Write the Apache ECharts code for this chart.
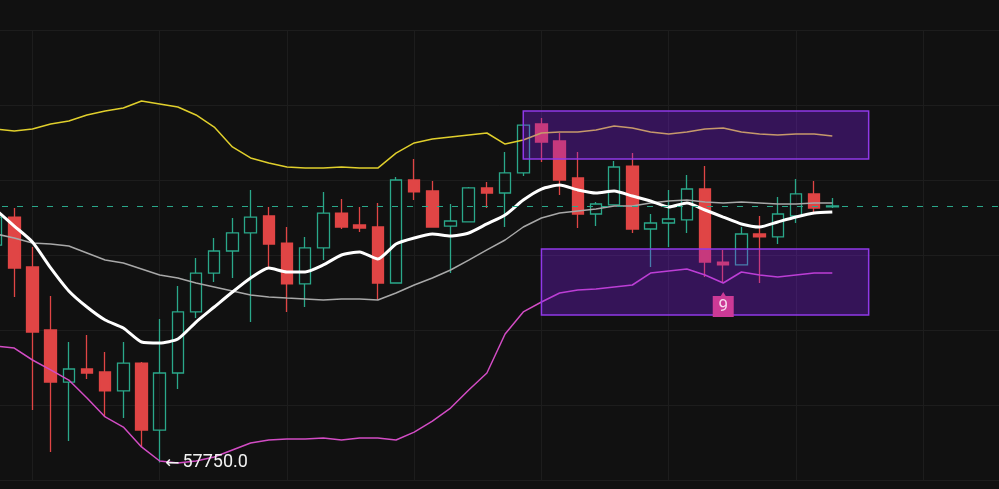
<!DOCTYPE html>
<html>
<head>
<meta charset="utf-8">
<script src="https://cdn.jsdelivr.net/npm/echarts@6/dist/echarts.min.js"></script>
<style>
html,body{margin:0;padding:0;background:#111111;}
#chart{width:999px;height:489px;}
</style>
</head>
<body>
<div id="chart"></div>
<script>
// ---- categories (15m candles, last 9 slots empty) ----
const categories = [
'08:00','08:15','08:30','08:45','09:00','09:15','09:30','09:45',
'10:00','10:15','10:30','10:45','11:00','11:15','11:30','11:45',
'12:00','12:15','12:30','12:45','13:00','13:15','13:30','13:45',
'14:00','14:15','14:30','14:45','15:00','15:15','15:30','15:45',
'16:00','16:15','16:30','16:45','17:00','17:15','17:30','17:45',
'18:00','18:15','18:30','18:45','19:00','19:15','19:30','19:45',
'20:00','20:15','20:30','20:45','21:00','21:15','21:30','21:45'
];

// ---- candles: [open, close, low, high] ----
const ohlc = [
[59605,59844,59546,59921],
[59844,59409,59162,59921],
[59418,58863,58197,59588],
[58880,58436,57839,59170],
[58436,58547,57933,58778],
[58547,58513,58462,58837],
[58522,58360,58138,58692],
[58360,58598,58129,58778],
[58598,58026,57882,58607],
[58026,58513,57750,58974],
[58513,59034,58377,59256],
[59034,59366,58982,59494],
[59366,59554,59290,59665],
[59554,59708,59324,59836],
[59708,59844,58948,60075],
[59853,59614,59409,59930],
[59622,59273,59034,59759],
[59273,59580,59076,59674],
[59580,59878,59477,60058],
[59878,59759,59742,59998],
[59776,59750,59716,59930],
[59759,59281,59136,59964],
[59281,60160,59275,60186],
[60160,60058,59989,60339],
[60066,59759,59755,60151],
[59767,59810,59366,59955],
[59802,60092,59800,60100],
[60092,60049,59921,60143],
[60049,60220,59759,60399],
[60220,60629,60194,60635],
[60638,60484,60314,60689],
[60493,60160,60032,60561],
[60177,59870,59750,60399],
[59870,59955,59767,59972],
[59947,60271,59945,60322],
[60279,59742,59708,60390],
[59742,59793,59418,59870],
[59793,59827,59588,60075],
[59819,60083,59708,60203],
[60083,59460,59332,60279],
[59460,59435,59281,59563],
[59435,59699,59430,59759],
[59699,59674,59281,59853],
[59674,59870,59614,60015],
[59853,60041,59793,60169],
[60041,59921,59887,60151],
[59930,59938,59921,60006]
];

// ---- Bollinger bands ----
const bollUpper = [60595,60578,60595,60638,60663,60715,60749,60774,60834,60809,60783,60715,60612,60442,60348,60305,60271,60262,60262,60271,60262,60262,60390,60476,60510,60527,60544,60561,60467,60501,60561,60570,60570,60587,60621,60604,60570,60553,60570,60595,60604,60570,60553,60544,60553,60553,60535];
const bollMid = [59699,59665,59622,59614,59597,59537,59477,59452,59401,59349,59324,59281,59247,59213,59179,59162,59153,59145,59136,59145,59145,59136,59196,59264,59324,59392,59477,59563,59648,59759,59836,59878,59895,59912,59938,59938,59964,59981,59989,59972,59964,59972,59964,59955,59955,59964,59964];
const bollLower = [58743,58726,58624,58539,58453,58300,58138,58052,57882,57762,57745,57762,57796,57856,57916,57941,57950,57950,57958,57941,57958,57958,57941,58009,58103,58214,58368,58513,58846,59034,59119,59196,59221,59230,59247,59264,59366,59384,59401,59349,59281,59375,59349,59332,59349,59366,59366];
// ---- moving average (white) ----
const maLine = [59904,59767,59631,59410,59213,59076,58965,58897,58778,58769,58803,58948,59076,59204,59324,59409,59375,59375,59435,59520,59546,59486,59614,59665,59699,59682,59708,59785,59861,59989,60083,60117,60075,60049,60066,60023,59981,59930,59964,59904,59844,59785,59759,59802,59844,59878,59887];

// ---- zones (price ranges) ----
const zoneFrom = [29, 30];
const zoneTo = [48, 48];
const zoneHigh = [60749, 59571];
const zoneLow = [60339, 59008];

// ---- sequence count label ----
const countIndex = [40];
const countText = ['9'];

// ---- y axis ticks ----
const yMin = 57600, yMax = 61440, yStep = 640;

const UP = '#2aa88a', DOWN = '#e04545';
const lastClose = ohlc[ohlc.length - 1][1];

const chart = echarts.init(document.getElementById('chart'));
chart.setOption({
  backgroundColor: '#111111',
  animation: false,
  grid: { left: -13, right: -6, top: 30, bottom: 9, containLabel: false, outerBoundsMode: 'none' },
  xAxis: {
    type: 'category', data: categories, boundaryGap: true,
    axisLine: { show: false }, axisTick: { show: false }, axisLabel: { show: false },
    splitLine: { show: true, alignWithLabel: true, interval: function (i) { return i % 7 === 2; },
      lineStyle: { color: '#1d1d1d', width: 1 } }
  },
  yAxis: {
    type: 'value', min: yMin, max: yMax, interval: yStep, scale: true,
    axisLine: { show: false }, axisTick: { show: false }, axisLabel: { show: false },
    splitLine: { show: true, lineStyle: { color: '#1d1d1d', width: 1 } }
  },
  series: [
    {
      type: 'candlestick', data: ohlc, barWidth: 12, z: 2,
      itemStyle: { color: 'rgba(0,0,0,0)', color0: DOWN, borderColor: UP, borderColor0: DOWN, borderWidth: 1.3 },
      markLine: {
        silent: true, symbol: ['none', 'none'], label: { show: false },
        lineStyle: { color: UP, type: [6, 9], width: 1.2 },
        data: [{ yAxis: lastClose }]
      },
      markPoint: {
        silent: true,
        data: [{
          type: 'min', valueDim: 'lowest', symbol: 'circle', symbolSize: 1,
          itemStyle: { color: 'rgba(0,0,0,0)' },
          label: { show: true, position: 'right', distance: 5, color: '#f2f2f2',
            fontFamily: 'Roboto, "DejaVu Sans", sans-serif',
            formatter: function (p) { return '{a|\u2190} {b|' + Number(p.value).toFixed(1) + '}'; },
            rich: {
              a: { fontSize: 17, color: '#f2f2f2', fontFamily: '"DejaVu Sans", sans-serif', padding: [2, 0, 0, 0] },
              b: { fontSize: 18, color: '#f2f2f2', fontFamily: 'Roboto, sans-serif' }
            } }
        }]
      }
    },
    { type: 'line', data: bollUpper, showSymbol: false, z: 3, lineStyle: { color: '#e0cf2c', width: 1.5 } },
    { type: 'line', data: bollMid, showSymbol: false, z: 3, lineStyle: { color: '#a8a8a8', width: 1.5 } },
    { type: 'line', data: bollLower, showSymbol: false, z: 3, lineStyle: { color: '#d24cc4', width: 1.5 } },
    { type: 'line', data: maLine, showSymbol: false, z: 4, smooth: 0.2, lineStyle: { color: '#ffffff', width: 3 } },
    {
      type: 'line', data: [], z: 10, silent: true,
      markArea: {
        silent: true, z: 10,
        itemStyle: { color: 'rgba(140,30,255,0.3)', borderColor: '#9038e8', borderWidth: 1.5 },
        data: zoneFrom.map(function (f, i) {
          return [{ xAxis: categories[f], yAxis: zoneHigh[i] }, { xAxis: categories[zoneTo[i]], yAxis: zoneLow[i] }];
        })
      }
    },
    {
      type: 'line', data: [], z: 11, silent: true,
      markPoint: {
        silent: true, z: 11,
        data: countIndex.map(function (idx, i) {
          return {
            coord: [categories[idx], ohlc[idx][2]],
            symbol: 'path://M0,4 L8,4 L10.5,0 L13,4 L21,4 L21,25 L0,25 Z',
            symbolSize: [21, 25], symbolOffset: [0, 21.5],
            itemStyle: { color: '#cc3a96' },
            label: { show: true, position: 'inside', offset: [0, 2], formatter: countText[i],
              color: '#f7d8ee', fontSize: 17, fontFamily: 'Roboto, sans-serif' }
          };
        })
      }
    }
  ]
});
</script>
</body>
</html>
